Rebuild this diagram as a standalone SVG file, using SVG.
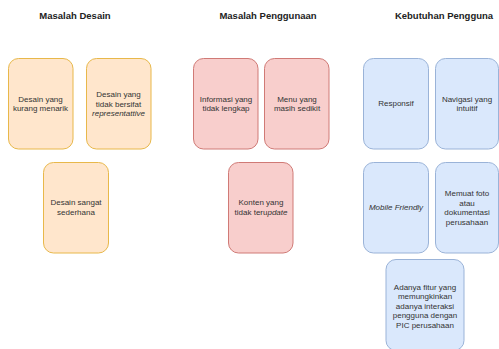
<svg xmlns="http://www.w3.org/2000/svg" width="499" height="349" viewBox="0 0 499 349">
<style>
.t{font-family:"Liberation Sans",Arial,sans-serif;font-size:9.5px;font-weight:bold;fill:#222;text-anchor:middle}
.l{font-family:"Liberation Sans",Arial,sans-serif;font-size:8px;fill:#333;text-anchor:middle}
.o{fill:#ffe6cc;stroke:#e8b84a;stroke-width:1}
.r{fill:#f8cecc;stroke:#d07a76;stroke-width:1}
.b{fill:#dae8fc;stroke:#9ab3d8;stroke-width:1}
</style>
<rect width="499" height="349" fill="#fff"/>
<g id="titles">
<text class="t" x="75" y="19">Masalah Desain</text>
<text class="t" x="268" y="19">Masalah Penggunaan</text>
<text class="t" x="444" y="19">Kebutuhan Pengguna</text>
</g>
<g id="n1"><rect class="o" x="8.5" y="58.5" width="64.5" height="90.5" rx="10"/>
<text class="l" x="40.5" y="102">Desain yang</text><text class="l" x="40.5" y="111">kurang menarik</text></g>
<g id="n2"><rect class="o" x="86.5" y="58.5" width="64.5" height="90.5" rx="10"/>
<text class="l" x="118.5" y="97">Desain yang</text><text class="l" x="118.5" y="106.5">tidak bersifat</text><text class="l" x="118.5" y="116" font-style="italic">representattive</text></g>
<g id="n3"><rect class="o" x="43.5" y="162.5" width="65" height="90.5" rx="10"/>
<text class="l" x="76" y="205">Desain sangat</text><text class="l" x="76" y="214.5">sederhana</text></g>
<g id="n4"><rect class="r" x="193.5" y="58.5" width="64.5" height="90.5" rx="10"/>
<text class="l" x="226" y="102">Informasi yang</text><text class="l" x="226" y="111">tidak lengkap</text></g>
<g id="n5"><rect class="r" x="264.5" y="58.5" width="64.5" height="90.5" rx="10"/>
<text class="l" x="297" y="102">Menu yang</text><text class="l" x="297" y="111">masih sedikit</text></g>
<g id="n6"><rect class="r" x="228.5" y="162.5" width="64.5" height="90.5" rx="10"/>
<text class="l" x="261" y="205">Konten yang</text><text class="l" x="261" y="214.5">tidak teru<tspan font-style="italic">pdate</tspan></text></g>
<g id="n7"><rect class="b" x="363.5" y="58.5" width="65" height="90.5" rx="10"/>
<text class="l" x="396" y="106">Responsif</text></g>
<g id="n8"><rect class="b" x="435.5" y="58.5" width="63" height="90.5" rx="10"/>
<text class="l" x="467" y="102">Navigasi yang</text><text class="l" x="467" y="111">intuitif</text></g>
<g id="n9"><rect class="b" x="363.5" y="162.5" width="65" height="90.5" rx="10"/>
<text class="l" x="396" y="210" font-style="italic">Mobile Friendly</text></g>
<g id="n10"><rect class="b" x="435.5" y="162.5" width="63" height="90.5" rx="10"/>
<text class="l" x="467" y="196">Memuat foto</text><text class="l" x="467" y="205.5">atau</text><text class="l" x="467" y="215">dokumentasi</text><text class="l" x="467" y="224.5">perusahaan</text></g>
<g id="n11"><rect class="b" x="386" y="259.5" width="78" height="91" rx="10"/>
<text class="l" x="425" y="289.5">Adanya fitur yang</text><text class="l" x="425" y="299">memungkinkan</text><text class="l" x="425" y="308.5">adanya interaksi</text><text class="l" x="425" y="318">pengguna dengan</text><text class="l" x="425" y="327.5">PIC perusahaan</text></g>
<g id="connectors"></g>
</svg>
